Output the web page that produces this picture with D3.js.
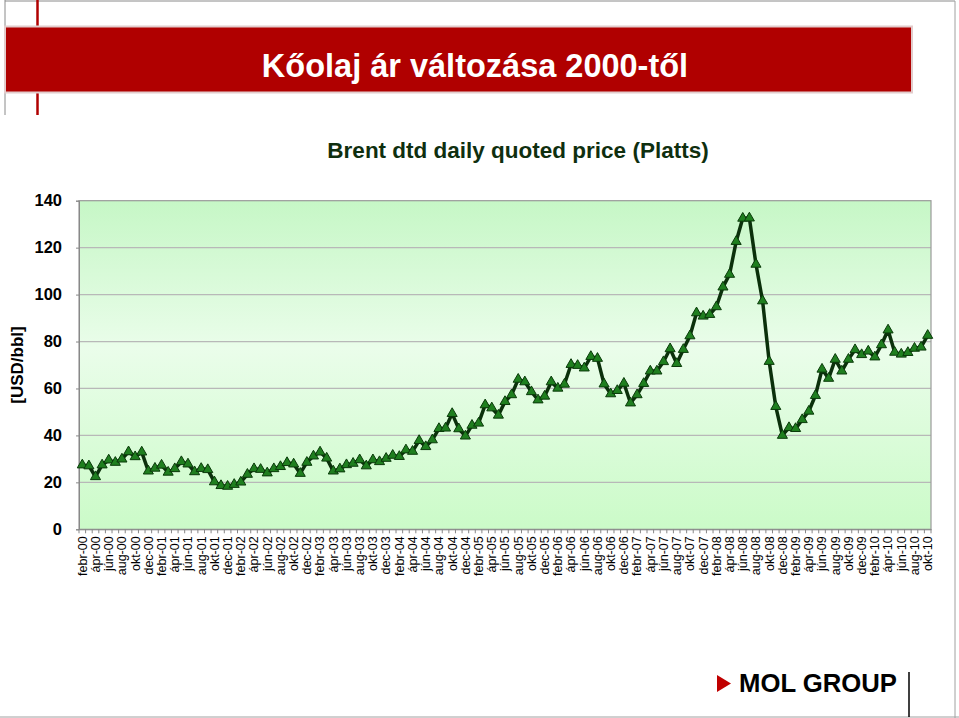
<!DOCTYPE html>
<html>
<head>
<meta charset="utf-8">
<script src="https://cdn.jsdelivr.net/npm/d3@7/dist/d3.min.js"></script>
<style>
  html, body { margin: 0; padding: 0; background: #fff; }
  svg { display: block; font-family: "Liberation Sans", Arial, sans-serif; }
</style>
</head>
<body>
<svg id="chart" width="959" height="718"></svg>
<script>
// ---- Data ----
const monthNames = ["jan", "febr", "márc", "ápr", "máj", "jún", "júl", "aug", "szept", "okt", "nov", "dec"];
const years = ["00","01","02","03","04","05","06","07","08","09","10"];
// categories: febr-00 ... okt-10
const categories = [];
years.forEach((y, yi) => {
  monthNames.forEach((m, mi) => {
    if (yi === 0 && mi < 1) return;
    if (yi === 10 && mi > 9) return;
    categories.push(m + "-" + y);
  });
});
const prices2000 = [27.4, 27.0, 22.4, 27.4, 29.5, 28.5, 29.9, 33.0, 30.9, 32.9, 24.8];
const prices2001 = [26.0, 27.3, 24.3, 25.8, 28.8, 27.8, 24.5, 25.9, 25.4, 20.2, 18.6, 18.3];
const prices2002 = [19.1, 20.1, 23.4, 25.8, 25.5, 24.0, 25.8, 26.7, 28.4, 27.8, 23.8, 28.5];
const prices2003 = [31.2, 32.9, 30.3, 24.8, 25.7, 27.5, 28.1, 29.6, 27.0, 29.6, 28.8, 30.2];
const prices2004 = [31.5, 31.0, 33.8, 33.2, 37.8, 35.2, 38.1, 42.9, 43.1, 49.3, 42.8, 39.7];
const prices2005 = [44.3, 45.2, 53.0, 51.7, 48.6, 54.4, 57.3, 63.9, 62.8, 58.6, 55.1, 56.7];
const prices2006 = [62.8, 60.1, 61.8, 70.2, 69.8, 68.7, 73.6, 72.8, 61.9, 57.7, 59.1, 62.2];
const prices2007 = [53.8, 57.3, 62.1, 67.4, 67.4, 71.4, 76.9, 70.6, 76.6, 82.4, 92.2, 90.8];
const prices2008 = [91.5, 94.8, 103.2, 108.6, 122.6, 132.5, 132.6, 112.9, 97.3, 71.5, 52.3, 40.0];
const prices2009 = [43.3, 42.9, 46.7, 50.3, 57.0, 68.2, 64.3, 72.4, 67.4, 72.4, 76.5, 74.4];
const prices2010 = [75.9, 73.4, 78.6, 84.9, 75.4, 74.6, 75.3, 77.1, 77.6, 82.6];
const prices = [].concat(prices2000, prices2001, prices2002, prices2003, prices2004, prices2005,
                         prices2006, prices2007, prices2008, prices2009, prices2010);
const yTicks = [0, 20, 40, 60, 80, 100, 120, 140];
const titleText = "Kőolaj ár változása 2000-től";
const subtitleText = "Brent dtd daily quoted price (Platts)";
const yAxisTitle = "[USD/bbl]";
const logoText = "MOL GROUP";

const data = categories.map((c, i) => ({ cat: c, value: prices[i] }));

// ---- Layout ----
const svg = d3.select("#chart");
const plot = { left: 79, right: 931, top: 200.7, bottom: 529.3 };

const x = d3.scaleBand().domain(categories).range([plot.left, plot.right]).padding(0);
const y = d3.scaleLinear().domain([0, 140]).range([plot.bottom, plot.top]);
const cx = c => x(c) + x.bandwidth() / 2;

// frame
svg.append("line").attr("x1", 5).attr("x2", 5).attr("y1", 0).attr("y2", 115).attr("stroke", "#8a8a8a").attr("stroke-width", 1);
svg.append("line").attr("x1", 5).attr("x2", 955).attr("y1", 1).attr("y2", 1).attr("stroke", "#8a8a8a").attr("stroke-width", 1);
svg.append("line").attr("x1", 955).attr("x2", 955).attr("y1", 1).attr("y2", 718).attr("stroke", "#a0a0a0").attr("stroke-width", 1);
svg.append("line").attr("x1", 0).attr("x2", 959).attr("y1", 717).attr("y2", 717).attr("stroke", "#a0a0a0").attr("stroke-width", 1);

// red vertical accent
svg.append("line").attr("x1", 37.5).attr("x2", 37.5).attr("y1", 0).attr("y2", 115).attr("stroke", "#b00000").attr("stroke-width", 2.5);

// banner
svg.append("rect").attr("x", 5).attr("y", 26.5).attr("width", 907).attr("height", 66)
  .attr("fill", "#b00000").attr("stroke", "#e2cccc").attr("stroke-width", 2);
svg.append("text").attr("x", 475).attr("y", 77).attr("text-anchor", "middle")
  .attr("fill", "#ffffff").attr("font-weight", "bold").attr("font-size", 32.5).text(titleText);

// subtitle
svg.append("text").attr("x", 518).attr("y", 158).attr("text-anchor", "middle")
  .attr("fill", "#0f2f0f").attr("font-weight", "bold").attr("font-size", 22.5).text(subtitleText);

// plot background gradient
const defs = svg.append("defs");
const grad = defs.append("linearGradient").attr("id", "bg").attr("x1", 0).attr("x2", 0).attr("y1", 0).attr("y2", 1);
grad.append("stop").attr("offset", "0%").attr("stop-color", "#c6f7c6");
grad.append("stop").attr("offset", "45%").attr("stop-color", "#eafdea");
grad.append("stop").attr("offset", "100%").attr("stop-color", "#cbfbc8");
svg.append("rect").attr("x", plot.left).attr("y", plot.top).attr("width", plot.right - plot.left)
  .attr("height", plot.bottom - plot.top).attr("fill", "url(#bg)");

// gridlines
svg.append("g").selectAll("line").data(yTicks.filter(t => t > 0 && t < 140)).join("line")
  .attr("x1", plot.left).attr("x2", plot.right).attr("y1", d => y(d)).attr("y2", d => y(d))
  .attr("stroke", "#b8b8b8").attr("stroke-width", 1.2);

// plot border
svg.append("rect").attr("x", plot.left).attr("y", plot.top).attr("width", plot.right - plot.left)
  .attr("height", plot.bottom - plot.top).attr("fill", "none").attr("stroke", "#999").attr("stroke-width", 1.2);

// y axis
const yAxis = d3.axisLeft(y).tickValues(yTicks).tickSize(3).tickPadding(14);
const gy = svg.append("g").attr("transform", `translate(${plot.left},0)`).call(yAxis);
gy.select(".domain").attr("stroke", "#888");
gy.selectAll(".tick line").attr("stroke", "#888");
gy.selectAll(".tick text").attr("font-size", 16.5).attr("font-weight", "bold").attr("fill", "#000")
  .attr("font-family", "'Liberation Sans', Arial, sans-serif");

svg.append("text").attr("transform", `translate(23,365) rotate(-90)`).attr("text-anchor", "middle")
  .attr("font-size", 17).attr("font-weight", "bold").attr("fill", "#000").text(yAxisTitle);

// x axis
const xAxis = d3.axisBottom(x).tickValues(categories.filter((c, i) => i % 2 === 0)).tickSize(0).tickPadding(0);
const gx = svg.append("g").attr("transform", `translate(0,${plot.bottom})`).call(xAxis);
gx.select(".domain").attr("stroke", "#888");
gx.selectAll(".tick text")
  .attr("font-size", 12.5).attr("fill", "#000").attr("font-family", "'Liberation Sans', Arial, sans-serif")
  .attr("text-anchor", "end").attr("dy", "0.35em")
  .attr("transform", "translate(0,7) rotate(-90)").attr("x", 0).attr("y", 0);
// boundary ticks
svg.append("g").selectAll("line").data(categories.concat(["__end"])).join("line")
  .attr("x1", (d, i) => i < categories.length ? x(d) : plot.right)
  .attr("x2", (d, i) => i < categories.length ? x(d) : plot.right)
  .attr("y1", plot.bottom).attr("y2", plot.bottom + 4)
  .attr("stroke", "#888").attr("stroke-width", 1);

// line
const line = d3.line().x(d => cx(d.cat)).y(d => y(d.value));
svg.append("path").datum(data).attr("d", line).attr("fill", "none")
  .attr("stroke", "#0b300b").attr("stroke-width", 3.5).attr("stroke-linejoin", "round");

// markers
const tri = d3.symbol().type(d3.symbolTriangle).size(44);
svg.append("g").selectAll("path").data(data).join("path")
  .attr("d", tri)
  .attr("transform", d => `translate(${cx(d.cat)},${y(d.value)})`)
  .attr("fill", "#1f7f1f").attr("stroke", "#0a3a0a").attr("stroke-width", 1);

// logo
svg.append("path").attr("d", "M717,675 L731,683.5 L717,692 Z").attr("fill", "#c00000");
svg.append("text").attr("x", 739).attr("y", 692).attr("font-size", 25.5).attr("font-weight", "bold")
  .attr("fill", "#000").attr("textLength", 158).attr("lengthAdjust", "spacingAndGlyphs").text(logoText);
svg.append("line").attr("x1", 909).attr("x2", 909).attr("y1", 672).attr("y2", 717).attr("stroke", "#000").attr("stroke-width", 1.5);
</script>
</body>
</html>
